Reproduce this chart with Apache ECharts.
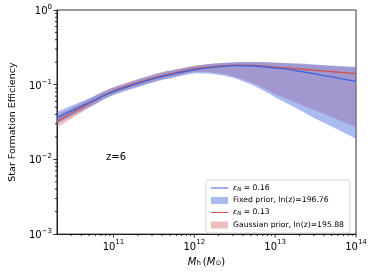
<!DOCTYPE html>
<html>
<head>
<meta charset="utf-8">
<script src="https://cdn.jsdelivr.net/npm/echarts@6/dist/echarts.min.js"></script>
<style>
html,body{margin:0;padding:0;background:#fff;}
#c{width:373px;height:272px;}
</style>
</head>
<body>
<div id="c"></div>
<script>
// Halo mass (M_sun)
const haloMass = [2e10, 3.16e10, 5.62e10, 1e11, 3.16e11, 5.62e11, 1e12, 1.78e12, 3.16e12, 5.62e12, 1e13, 1.78e13, 3.16e13, 5.62e13, 1e14];
// Fixed prior (blue): median line and band
const fixedLine  = [0.036, 0.0457, 0.061, 0.081, 0.121, 0.140, 0.1586, 0.172, 0.180, 0.178, 0.167, 0.155, 0.139, 0.124, 0.111];
const fixedUpper = [0.043, 0.0535, 0.0697, 0.0909, 0.1358, 0.157, 0.178, 0.192, 0.200, 0.201, 0.198, 0.193, 0.187, 0.180, 0.175];
const fixedLower = [0.0301, 0.0391, 0.0534, 0.0722, 0.1078, 0.1248, 0.1414, 0.138, 0.122, 0.095, 0.068, 0.049, 0.035, 0.026, 0.019];
// Gaussian prior (red): median line and band
const gaussLine  = [0.0325, 0.0424, 0.060, 0.083, 0.1233, 0.143, 0.163, 0.175, 0.183, 0.181, 0.172, 0.164, 0.156, 0.148, 0.141];
const gaussUpper = [0.039, 0.0498, 0.0686, 0.0931, 0.1383, 0.160, 0.179, 0.192, 0.199, 0.201, 0.197, 0.190, 0.183, 0.175, 0.168];
const gaussLower = [0.027, 0.0361, 0.0525, 0.074, 0.110, 0.1275, 0.148, 0.145, 0.128, 0.102, 0.075, 0.058, 0.045, 0.035, 0.027];

const legendNames = ['ε_N = 0.16', 'Fixed prior, ln(z)=196.76', 'ε_N = 0.13', 'Gaussian prior, ln(z)=195.88'];
const xMin = 2e10, xMax = 1e14, yMin = 1e-3, yMax = 1;
const xMajorTicks = [1e11, 1e12, 1e13, 1e14];
const annotation = 'z=6';

const FONT = 'DejaVu Sans';
const BLUE = '#3f63dc';
const RED = '#d1524c';
const BLUE_BAND = 'rgba(65,105,225,0.45)';
const RED_BAND = 'rgba(215,95,95,0.4)';

// minor ticks (2..9 x 10^n) inside the axis ranges
const xMinor = [], yMinor = [];
for (let e = 10; e <= 13; e++) for (let k = 2; k <= 9; k++) { const v = k * Math.pow(10, e); if (v > xMin * 1.01 && v < xMax) xMinor.push(v); }
for (let e = -3; e <= -1; e++) for (let k = 2; k <= 9; k++) { yMinor.push(k * Math.pow(10, e)); }

function supLabel(v) {
  const e = Math.round(Math.log10(v));
  const s = e < 0 ? '\u2212' + Math.abs(e) : String(e);
  return '{b|10}{s|' + s + '}';
}
const supRich = {
  b: { fontFamily: FONT, fontSize: 10, color: '#000', lineHeight: 13, verticalAlign: 'bottom' },
  s: { fontFamily: FONT, fontSize: 7, color: '#000', lineHeight: 13, verticalAlign: 'top', padding: [0, 0, 5, 0] }
};

// Catmull-Rom style smooth path through pixel points (rendering only)
function smoothSegs(pts, startWithMove) {
  let d = (startWithMove ? 'M' : 'L') + pts[0][0] + ',' + pts[0][1];
  for (let i = 0; i < pts.length - 1; i++) {
    const p0 = pts[Math.max(0, i - 1)], p1 = pts[i], p2 = pts[i + 1], p3 = pts[Math.min(pts.length - 1, i + 2)];
    const c1x = p1[0] + (p2[0] - p0[0]) / 6, c1y = p1[1] + (p2[1] - p0[1]) / 6;
    const c2x = p2[0] - (p3[0] - p1[0]) / 6, c2y = p2[1] - (p3[1] - p1[1]) / 6;
    d += 'C' + c1x + ',' + c1y + ',' + c2x + ',' + c2y + ',' + p2[0] + ',' + p2[1];
  }
  return d;
}
function bandSeries(name, lower, upper, color, z) {
  return {
    name: name, type: 'custom', silent: true, z: z,
    itemStyle: { color: color },
    data: haloMass.map((x, i) => [x, lower[i], upper[i]]),
    encode: { x: 0, y: [1, 2] },
    renderItem: function (params, api) {
      if (params.dataIndex !== 0) return null;
      const up = haloMass.map((x, i) => api.coord([x, upper[i]]));
      const lo = haloMass.map((x, i) => api.coord([x, lower[i]])).reverse();
      const d = smoothSegs(up, true) + smoothSegs(lo, false) + 'Z';
      return { type: 'path', shape: { pathData: d }, style: { fill: color, stroke: null } };
    }
  };
}
function lineSeries(name, values, color, z) {
  return {
    name: name, type: 'custom', z: z,
    itemStyle: { color: color },
    data: haloMass.map((x, i) => [x, values[i]]),
    encode: { x: 0, y: 1 },
    renderItem: function (params, api) {
      if (params.dataIndex !== 0) return null;
      const pts = haloMass.map((x, i) => api.coord([x, values[i]]));
      return { type: 'path', shape: { pathData: smoothSegs(pts, true) }, style: { fill: null, stroke: color, lineWidth: 1.3 } };
    }
  };
}

const chart = echarts.init(document.getElementById('c'), null, { renderer: 'canvas' });
const tickStyle = { stroke: '#000', lineWidth: 0.8 };

const option = {
  animation: false,
  backgroundColor: '#fff',
  grid: { left: 47, right: 17, top: 10, bottom: 35, show: true, borderColor: '#000', borderWidth: 0.8, backgroundColor: 'transparent' },
  xAxis: {
    type: 'log', logBase: 10, min: xMin, max: xMax,
    name: '{i|M}{sub|h}{n|\u2009(}{i|M}{sub|\u2299}{n|)}',
    nameLocation: 'middle', nameGap: 16,
    nameTextStyle: {
      rich: {
        i: { fontFamily: FONT, fontStyle: 'italic', fontSize: 10, color: '#000', lineHeight: 12, verticalAlign: 'bottom' },
        sub: { fontFamily: FONT, fontSize: 7, color: '#000', lineHeight: 12, verticalAlign: 'bottom', padding: [3, 0, 0, 0] },
        n: { fontFamily: FONT, fontSize: 10, color: '#000', lineHeight: 12, verticalAlign: 'bottom' }
      }
    },
    axisLine: { show: true, lineStyle: { color: '#000', width: 0.8 } },
    axisTick: { show: false },
    minorTick: { show: false },
    splitLine: { show: false },
    axisLabel: { showMinLabel: false, margin: 5, formatter: supLabel, rich: supRich }
  },
  yAxis: {
    type: 'log', logBase: 10, min: yMin, max: yMax,
    name: 'Star Formation Efficiency',
    nameLocation: 'middle', nameGap: 31,
    nameTextStyle: { fontFamily: FONT, fontSize: 9.5, color: '#000' },
    axisLine: { show: true, lineStyle: { color: '#000', width: 0.8 } },
    axisTick: { show: true, length: 3.5, lineStyle: { color: '#000', width: 0.8 } },
    minorTick: { show: false },
    splitLine: { show: false },
    axisLabel: { margin: 5, formatter: supLabel, rich: supRich }
  },
  legend: {
    orient: 'vertical', right: 23, bottom: 39,
    padding: [4, 6, 4, 5], itemGap: 4, itemWidth: 17, itemHeight: 7,
    backgroundColor: '#fff', borderColor: '#cccccc', borderWidth: 0.8, borderRadius: 2,
    textStyle: {
      fontFamily: FONT, fontSize: 7.7, color: '#000',
      rich: {
        e: { fontFamily: FONT, fontStyle: 'italic', fontSize: 7.7, color: '#000' },
        sub: { fontFamily: FONT, fontStyle: 'italic', fontSize: 5.5, color: '#000', padding: [3, 0, 0, 0] },
        t: { fontFamily: FONT, fontSize: 7.7, color: '#000' }
      }
    },
    formatter: function (name) {
      if (name.indexOf('ε_N') === 0) return '{e|ε}{sub|N}{t|' + name.slice(3) + '}';
      return name;
    },
    data: [
      { name: legendNames[0], icon: 'path://M0,4.4H20V5.6H0Z', itemStyle: { color: BLUE } },
      { name: legendNames[1], icon: 'rect', itemStyle: { color: 'rgb(170,186,241)', borderWidth: 0 } },
      { name: legendNames[2], icon: 'path://M0,4.4H20V5.6H0Z', itemStyle: { color: RED } },
      { name: legendNames[3], icon: 'rect', itemStyle: { color: 'rgb(238,190,190)', borderWidth: 0 } }
    ]
  },
  graphic: [
    { type: 'text', left: 106, top: 152, style: { text: annotation, fontFamily: FONT, fontSize: 10, fill: '#000' } }
  ],
  series: [
    bandSeries(legendNames[3], gaussLower, gaussUpper, RED_BAND, 1),
    bandSeries(legendNames[1], fixedLower, fixedUpper, BLUE_BAND, 2),
    lineSeries(legendNames[2], gaussLine, RED, 3),
    lineSeries(legendNames[0], fixedLine, BLUE, 4),
    {
      name: 'xticks', type: 'custom', silent: true, z: 5,
      data: xMajorTicks.map(v => [v, yMin, 3.5]).concat(xMinor.map(v => [v, yMin, 2])),
      renderItem: function (params, api) {
        const p = api.coord([api.value(0), api.value(1)]);
        const len = api.value(2);
        return { type: 'line', shape: { x1: p[0], y1: p[1], x2: p[0], y2: p[1] + len }, style: tickStyle };
      }
    },
    {
      name: 'yticks', type: 'custom', silent: true, z: 5,
      data: yMinor.map(v => [xMin, v, 2]),
      renderItem: function (params, api) {
        const p = api.coord([api.value(0), api.value(1)]);
        const len = api.value(2);
        return { type: 'line', shape: { x1: p[0] - len, y1: p[1], x2: p[0], y2: p[1] }, style: tickStyle };
      }
    }
  ]
};
chart.setOption(option);
</script>
</body>
</html>
